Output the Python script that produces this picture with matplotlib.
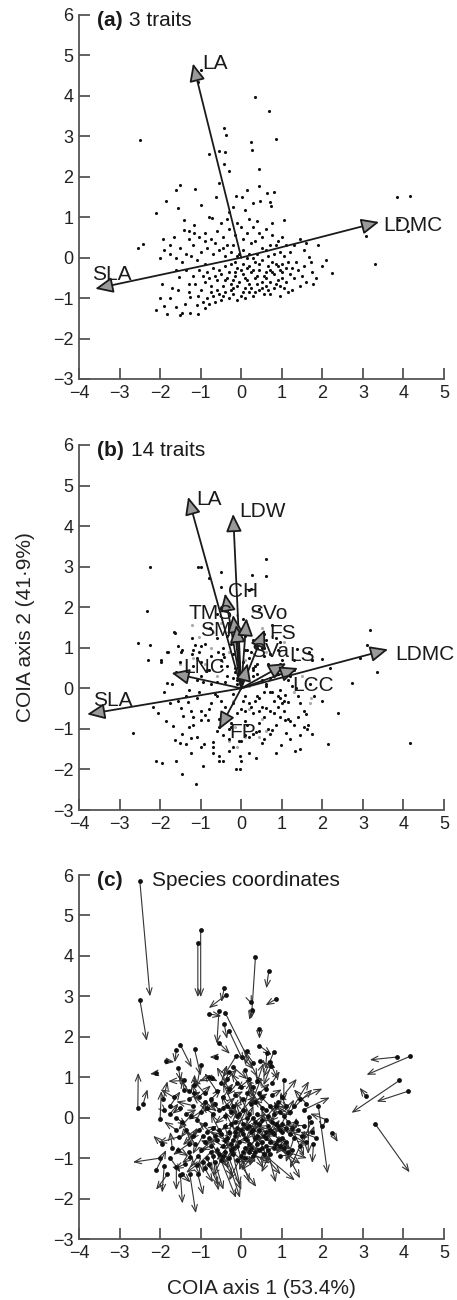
import numpy as np
import matplotlib.pyplot as plt

plt.rcParams['font.family'] = ['Liberation Sans', 'DejaVu Sans']

# species scores on the co-inertia axes, 3-trait analysis (dots in a, arrow tails in c)
x3 = [-2.5, -1.07, -1.0, 0.35, 0.68, 0.85, -2.5, -0.42, -0.38, 0.24,
      0.26, -0.8, -0.55, -0.4, -0.42, -0.3, 0.45, -1.5, -1.6, -1.15,
      -0.55, 0.45, 0.63, 0.8, 0.15, -0.13, 0.03, -0.62, -1.85, 0.46,
      0.7, 0.73, -1.55, -2.1, -0.31, 0.1, -0.8, -0.72, -1.4, 1.05,
      3.84, 4.17, 3.9, 4.1, 3.3, 3.07, 2.25, 1.9, 2.0, 1.78,
      1.66, 1.72, -2.55, -2.42, -2.0, -2.0, -1.95, -1.92, -1.9, -1.65,
      -1.53, -1.4, -1.3, -1.16, -1.16, 1.45, 1.0, 1.3, 1.55, 1.2,
      -1.9, -1.82, -1.6, -1.5, -1.47, -1.39, -1.27, -1.27, -1.07, -1.07,
      -1.1, -0.95, -0.9, -0.85, -0.8, -0.7, -0.65, -0.55, -0.5, -0.4,
      -0.3, -0.2, -0.1, 0.0, 0.1, 0.2, 0.3, 0.45, 0.55, 0.6,
      0.7, 0.8, 0.9, 1.0, 1.1, 1.2, 1.3, 1.4, 1.5, 1.55,
      1.35, 1.1, 0.95, 0.85, 0.75, 0.65, 0.55, 0.45, 0.35, 0.25,
      0.15, 0.05, -0.05, -0.15, -0.25, -0.35, -0.45, -0.6, -0.75, -0.9,
      -1.0, -1.15, -1.2, -1.35, -1.05, -0.85, -0.7, -0.55, -0.4, -0.25,
      -0.1, 0.05, 0.2, 0.35, 0.5, 0.65, 0.8, 0.95, 1.1, 0.9,
      0.7, 0.5, 0.35, 0.2, 0.05, -0.1, -0.25, -0.4, -0.55, -0.7,
      -0.85, -1.0, -1.2, -1.35, -1.5, -1.6, -1.75, -1.3, -1.05, -0.9,
      -0.75, -0.6, -0.45, -0.3, -0.15, 0.0, 0.15, 0.3, 0.45, 0.6,
      0.75, 0.4, 0.2, -0.5, -1.3, 0.1, 0.4, 0.7, -0.2, 0.6,
      -0.6, -0.15, 0.3, 0.95, 1.25, -0.35, 1.0, -1.7, -0.95, 0.15,
      0.0, 0.1, 0.2, 0.3, 0.4, 0.5, 0.6, 0.7, 0.8, 0.9,
      1.0, 1.15, 1.25, -0.1, -0.2, -0.3, -0.4, -0.5, -0.65, -0.8,
      0.05, 0.25, 0.5, 0.65, 0.85, 1.05, 0.35, -0.25, -0.45, -0.75,
      0.15, 0.4, 0.6, 0.85, -0.05, -0.2, -0.45, -0.65, 0.25, 0.5,
      -0.9, -1.1, -1.25, -1.45, -1.6, -1.75, -1.3, -1.55, -1.75, -2.1,
      1.6, 1.75, 1.85, 1.45, 1.15, 0.95, 2.1, 1.6, 0.75, -0.1,
      -0.35, -1.0, -0.2, 0.3, -0.9, -0.15, 0.45, 0.75, 1.05, 0.05]
y3 = [5.85, 4.33, 4.65, 3.97, 3.63, 2.93, 2.92, 3.2, 3.03, 2.85,
      2.66, 2.57, 2.64, 2.6, 2.32, 2.15, 2.2, 1.8, 1.68, 1.69,
      1.85, 1.78, 1.6, 1.62, 1.66, 1.52, 1.5, 1.5, 1.4, 1.4,
      1.38, 1.28, 1.22, 1.1, 1.14, 1.17, 1.0, 0.97, 0.92, 0.94,
      1.5, 1.52, 0.92, 0.65, -0.15, 0.54, -0.38, 0.3, -0.2, -0.65,
      0.01, -0.11, 0.25, 0.34, -0.02, -1.0, -0.65, 0.46, 0.18, 0.5,
      -0.47, 0.68, -0.65, 0.8, 0.6, 0.45, 0.5, 0.3, 0.2, 0.15,
      -1.2, -1.4, -1.22, -1.42, -1.38, -1.14, -1.38, -0.98, -1.4, -0.95,
      -1.17, -1.1, -1.25, -1.0, -1.15, -0.95, -1.1, -0.9, -1.05, -0.85,
      -1.0, -0.9, -1.05, -0.95, -1.0, -0.85, -0.95, -0.8, -0.9, -0.7,
      -0.6, -0.75, -0.55, -0.5, -0.6, -0.4, -0.5, -0.3, -0.45, -0.2,
      -0.1, -0.25, -0.3, -0.15, -0.35, -0.2, -0.45, -0.3, -0.5, -0.35,
      -0.55, -0.4, -0.6, -0.45, -0.65, -0.5, -0.7, -0.55, -0.7, -0.6,
      -0.8, -0.65, -0.45, -0.3, -0.3, -0.35, -0.25, -0.3, -0.2, -0.15,
      -0.25, -0.15, -0.2, -0.1, -0.05, 0.05, 0.1, 0.15, 0.3, 0.4,
      0.3, 0.25, 0.4, 0.1, 0.2, 0.05, 0.15, 0.05, 0.2, 0.1,
      0.25, 0.15, 0.3, 0.1, 0.25, 0.0, 0.3, 0.45, 0.5, 0.6,
      0.45, 0.65, 0.5, 0.7, 0.55, 0.75, 0.6, 0.75, 0.6, 0.7,
      0.55, 0.9, 0.95, 0.85, 0.65, -0.75, -0.65, -0.9, -0.75, -0.35,
      -0.8, -0.35, 0.0, -0.7, -0.8, 0.3, -0.15, -0.75, -0.45, -0.25,
      -0.3, -0.5, -0.65, -0.3, -0.45, -0.6, -0.5, -0.3, -0.4, -0.2,
      -0.35, -0.1, -0.25, -0.7, -0.55, -0.35, -0.55, -0.4, -0.45, -0.5,
      -0.85, -0.75, -0.75, -0.8, -0.65, -0.75, -0.85, -0.8, -0.95, -0.85,
      0.0, 0.1, 0.2, 0.3, 0.1, 0.3, 0.25, 0.35, 0.35, 0.5,
      -0.15, -0.05, 0.05, -0.1, -0.3, 0.1, -0.85, -0.8, -1.0, -1.3,
      -0.6, -0.35, -0.5, -0.7, -0.85, -0.95, -0.05, 0.35, 0.85, 0.85,
      0.95, 1.3, 1.25, 1.35, 0.4, -0.1, -0.15, -0.1, 0.05, 0.45]

# same species, 14-trait analysis (black dots in b, arrow heads in c)
x14 = [-2.25, -1.07, -1.0, 0.25, 0.62, 0.6, -2.33, -0.49, -0.8, 0.26,
       0.2, -0.49, -0.6, 0.4, -0.35, 0.05, 0.45, -1.22, -1.64, -1.0,
       -0.28, 0.75, 0.6, 0.55, 0.1, -0.45, 0.3, -0.78, -1.65, 0.85,
       0.9, 0.55, -1.49, -2.25, -0.42, 0.3, -1.03, -0.58, -1.8, 1.05,
       3.17, 3.09, 2.72, 3.34, 4.15, 2.92, 2.38, 2.13, 2.0, 1.75,
       1.65, 1.54, -2.54, -2.31, -1.97, -2.67, -2.17, -1.82, -1.84, -1.99,
       -2.05, -1.47, -1.68, -1.15, -1.22, 2.0, 1.37, 1.67, 2.18, 1.75,
       -1.95, -2.1, -1.6, -1.45, -1.25, -1.64, -1.12, -1.46, -0.94, -1.25,
       -1.36, -0.93, -0.7, -0.7, -0.56, -0.56, -0.44, -0.2, -0.13, -0.03,
       0.0, -0.03, 0.37, 0.29, 0.37, 0.71, 0.75, 0.97, 1.32, 1.08,
       1.46, 1.62, 1.06, 1.2, 0.85, 1.6, 1.1, 1.16, 1.06, 1.08,
       1.36, 0.9, 0.6, 0.43, 0.95, 0.5, 0.8, 0.3, 0.15, 0.55,
       -0.1, 0.3, -0.3, 0.1, -0.55, -0.2, -0.8, -0.9, -1.0, -1.0,
       -0.83, -1.32, -1.08, -1.49, -1.44, -0.6, -0.4, -0.75, -0.25, 0.0,
       0.15, -0.15, 0.45, 0.6, 0.2, 0.9, 1.2, 0.7, 0.95, 1.15,
       0.4, 0.2, 0.65, -0.05, 0.25, -0.35, -0.5, -0.65, -0.8, -1.0,
       -1.2, -1.3, -1.6, -1.1, -1.7, -1.35, -1.5, -1.0, -0.75, -1.2,
       -0.5, -0.9, -0.2, -0.6, 0.05, -0.25, 0.4, 0.1, 0.7, 0.35,
       1.0, 0.55, -0.1, -0.35, -1.55, 0.5, 0.2, 0.5, -0.45, 0.35,
       -0.3, -0.4, 0.05, 0.7, 0.9, -0.1, 1.3, -1.75, -1.2, 0.55,
       -0.25, 0.45, -0.05, 0.8, 0.65, 0.25, 0.95, 0.4, 1.15, 0.6,
       1.4, 0.8, 1.55, 0.2, -0.6, -0.1, -0.75, -0.3, -1.05, -0.55,
       -0.3, 0.55, 0.1, 0.85, 0.45, 1.45, 0.0, 0.1, -0.7, -1.1,
       -0.2, 0.75, 0.3, 1.25, 0.35, -0.45, -0.15, -0.95, 0.5, 0.15,
       -1.25, -0.85, -1.55, -1.2, -1.9, -1.55, -1.0, -1.3, -1.5, -1.85,
       1.4, 1.8, 1.45, 1.2, 0.95, 1.3, 1.7, 1.3, 0.95, -0.35,
       -0.1, -1.1, 0.15, 0.05, -0.6, -0.5, 0.1, 1.0, 0.7, -0.2]
y14 = [3.0, 2.98, 2.98, 2.45, 3.2, 2.78, 1.9, 2.86, 2.71, 2.8,
       2.42, 2.51, 1.83, 1.0, 1.95, 1.4, 1.95, 1.24, 1.37, 1.04,
       1.58, 1.55, 1.2, 1.0, 1.3, 1.0, 1.2, 1.5, 1.38, 1.23,
       0.95, 0.8, 0.9, 1.08, 0.78, 0.5, 0.9, 0.9, 0.9, 0.4,
       1.43, 1.06, 0.12, 0.4, -1.35, 0.74, -0.6, -1.38, -0.3, -1.12,
       -0.9, -0.56, 1.11, 0.7, 0.66, -1.1, -0.45, 0.9, 0.12, 0.7,
       -0.62, 0.94, -0.92, 1.07, 0.84, 0.72, 0.96, 0.9, 0.5, 0.7,
       -1.85, -1.78, -1.79, -2.12, -1.6, -1.27, -2.36, -1.12, -1.91, -1.23,
       -1.36, -1.38, -1.6, -1.32, -1.68, -1.8, -1.78, -1.45, -1.98, -1.98,
       -1.79, -1.68, -1.71, -1.13, -1.08, -1.13, -1.03, -1.4, -1.55, -0.77,
       -1.14, -1.0, -0.56, -0.8, -0.9, -0.63, -1.1, -0.33, -0.32, -0.17,
       0.0, -0.2, -0.48, -0.56, -0.05, 0.2, -0.3, -0.6, -0.9, -0.1,
       -0.6, 0.3, -1.0, -0.2, -0.75, -0.35, -0.5, -0.66, -0.79, -0.56,
       -0.77, -0.33, -0.25, -0.49, -0.68, -0.2, -0.45, 0.1, -0.85, -0.5,
       0.25, 0.4, -0.25, 0.1, -0.35, 0.35, 0.3, -0.1, 0.6, 0.2,
       0.6, 0.75, 0.6, 0.55, 0.9, 0.3, 0.55, -0.15, 0.45, 0.3,
       0.55, -0.05, 0.4, 0.2, 0.1, -0.2, 0.65, 0.65, 0.8, 0.95,
       0.7, 1.1, 0.85, 1.25, 0.65, 1.1, 0.35, 0.95, 0.85, 1.05,
       0.7, 1.35, 0.7, 1.3, 1.05, -0.45, -1.2, -1.35, -1.15, -0.3,
       -1.25, 0.15, -0.3, -0.55, -0.45, 0.1, 0.45, -0.35, -0.9, -0.7,
       -0.95, -0.85, -1.3, -0.6, -1.0, -0.45, -0.25, -0.2, -0.75, 0.05,
       -0.2, 0.4, -0.95, -1.6, -1.05, 0.2, -0.35, -0.7, -0.1, -0.95,
       -1.55, -1.25, -0.8, -1.6, -1.05, -1.5, -1.3, -1.15, -1.45, -1.2,
       -0.15, -0.1, 0.45, 0.05, 0.55, 0.85, 0.5, 0.15, 1.0, 0.35,
       -0.55, 0.45, -0.3, -0.7, -0.1, 0.35, -1.45, -0.95, -1.35, -0.8,
       -0.7, -0.2, -0.35, -1.25, -0.7, -0.9, 0.1, 0.7, 1.15, 0.55,
       1.2, 0.75, 0.95, 1.7, 0.15, -0.3, -0.55, -0.35, 0.25, 0.25]

# lighter points in panel b
greyX = [-1.22, -1.03, 1.05, 1.75, 1.73, 0.29, 0.2, -0.1, 0.15, -0.5,
         -0.7, -0.3, 0.1, 0.35, 0.6, 0.5, 0.9, -0.6, -0.9, -1.2,
         -0.2, 0.2, 0.5, 0.1, -0.1, 0.6, -0.3, 0.45, 0.8, 1.3,
         1.5, -0.45, 0.0, -0.75, 0.3, 0.75, -1.5, 1.7, -0.15, 0.2]
greyY = [1.56, 1.27, 1.15, 0.7, -0.23, -1.13, 2.42, 1.8, 1.55, 1.6,
         1.4, 0.9, 0.7, 0.55, 0.9, 1.5, 0.5, 0.3, 0.6, 0.75,
         -0.3, -0.5, -0.75, -1.2, -1.45, -1.05, -1.3, -1.2, -0.6, -0.1,
         0.3, -0.6, 0.3, 1.0, 1.9, 1.3, 0.6, -0.35, -0.95, 0.05]

# trait loadings
traits3 = ['LA', 'LDMC', 'SLA']
traitX3 = [-1.19, 3.4, -3.6]
traitY3 = [4.8, 0.88, -0.77]

traits14 = ['LA', 'LDW', 'CH', 'TMS', 'SM', 'SVo', 'FS', 'SVa', 'LS', 'LCC', 'LDMC', 'LNC', 'SLA', 'FP']
traitX14 = [-1.31, -0.2, -0.4, -0.2, -0.12, 0.13, 0.58, 0.16, 1.11, 1.4, 3.62, -1.72, -3.8, -0.55]
traitY14 = [4.72, 4.3, 2.34, 1.81, 1.57, 1.73, 1.45, 0.62, 0.62, 0.5, 0.96, 0.38, -0.64, -1.02]

# where each label sits (x, y, ha)
labelPos3 = {'LA': (-0.97, 4.8, 'left'), 'LDMC': (3.49, 0.79, 'left'), 'SLA': (-3.68, -0.42, 'left')}
labelPos14 = {'LA': (-1.1, 4.66, 'left'), 'LDW': (-0.05, 4.36, 'left'), 'CH': (-0.33, 2.4, 'left'),
              'TMS': (-0.2, 1.85, 'right'), 'SM': (-0.25, 1.43, 'right'), 'SVo': (0.2, 1.85, 'left'),
              'FS': (0.7, 1.36, 'left'), 'SVa': (0.25, 0.91, 'left'), 'LS': (1.18, 0.81, 'left'),
              'LCC': (1.27, 0.07, 'left'), 'LDMC': (3.8, 0.84, 'left'), 'LNC': (-1.43, 0.52, 'left'),
              'SLA': (-3.65, -0.3, 'left'), 'FP': (-0.3, -1.1, 'left')}

assert len(x3) == len(y3) == len(x14) == len(y14)

axisColor = '#555555'
tickSize = 13
textSize = 15


def StyleAxes(ax):
    ax.set_xlim(-4, 5)
    ax.set_ylim(-3, 6)
    ax.set_xticks(range(-4, 6))
    ax.set_yticks(range(-3, 7))
    ax.spines['top'].set_visible(False)
    ax.spines['right'].set_visible(False)
    for s in ['left', 'bottom']:
        ax.spines[s].set_color(axisColor)
        ax.spines[s].set_linewidth(1.3)
    ax.tick_params(direction='in', length=8, width=1.3, color=axisColor, labelsize=tickSize, pad=4,
                   labelcolor='#222222')


def DrawTraits(ax, names, xs, ys, labelPos):
    for name, x, y in zip(names, xs, ys):
        ax.annotate('', xy=(x, y), xytext=(0, 0),
                    arrowprops=dict(arrowstyle='-|>,head_length=0.9,head_width=0.4', fc='#9a9a9a', ec='#1a1a1a',
                                    lw=1.3, shrinkA=0, shrinkB=0, mutation_scale=12))
        lx, ly, ha = labelPos[name]
        ax.text(lx, ly, name, ha=ha, va='center', fontsize=textSize, color='#1a1a1a')


def PanelTitle(ax, tag, text, gap):
    tagText = ax.text(-3.56, 5.86, tag, fontweight='bold', fontsize=textSize, ha='left', va='center',
                      color='#1a1a1a', zorder=5)
    ax.annotate(text, xy=(1, 0.5), xycoords=tagText, xytext=(gap, 0), textcoords='offset points',
                fontsize=textSize, ha='left', va='center', color='#1a1a1a', zorder=5,
                bbox=dict(boxstyle='square,pad=0.05', fc='white', ec='none'))


fig = plt.figure(figsize=(4.57, 13.0), dpi=100)
axA = fig.add_axes([0.1729, 0.7085, 0.7987, 0.28])
axB = fig.add_axes([0.1729, 0.3769, 0.7987, 0.2808])
axC = fig.add_axes([0.1729, 0.0469, 0.7987, 0.28])

# (a) 3 traits
StyleAxes(axA)
axA.scatter(x3, y3, s=5, c='#111111', linewidths=0, zorder=2)
DrawTraits(axA, traits3, traitX3, traitY3, labelPos3)
PanelTitle(axA, '(a)', '3 traits', 5)

# (b) 14 traits
StyleAxes(axB)
axB.scatter(greyX, greyY, s=5, c='#aaaaaa', linewidths=0, zorder=2)
axB.scatter(x14, y14, s=5, c='#111111', linewidths=0, zorder=2)
DrawTraits(axB, traits14, traitX14, traitY14, labelPos14)
PanelTitle(axB, '(b)', '14 traits', 5)

# (c) shift of each species between the two analyses
StyleAxes(axC)
for xa, ya, xb, yb in zip(x3, y3, x14, y14):
    axC.annotate('', xy=(xb, yb), xytext=(xa, ya),
                 arrowprops=dict(arrowstyle='->,head_length=0.5,head_width=0.2', color='#333333',
                                 lw=0.8, shrinkA=0, shrinkB=0, mutation_scale=10))
axC.scatter(x3, y3, s=12, c='#111111', linewidths=0, zorder=3)
PanelTitle(axC, '(c)', 'Species coordinates', 21)

fig.text(0.055, 0.518, 'COIA axis 2 (41\u00b79%)', rotation=90, ha='center', va='center', fontsize=textSize,
         color='#222222')
fig.text(0.573, 0.009, 'COIA axis 1 (53.4%)', ha='center', va='center', fontsize=textSize, color='#222222')

fig.savefig('out.png', dpi=100)
